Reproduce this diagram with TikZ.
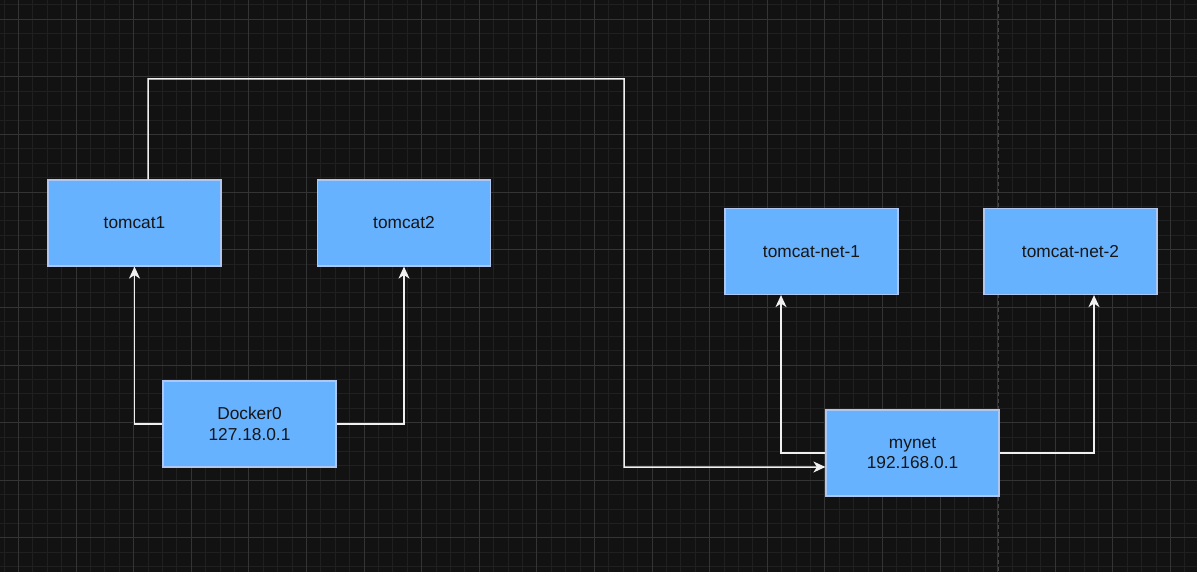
\documentclass[tikz,border=0pt]{standalone}
\usepackage{fontspec}
\setmainfont{Liberation Sans}
\usetikzlibrary{arrows.meta}
\definecolor{bg}{RGB}{18,18,18}
\definecolor{gridminor}{RGB}{32,32,32}
\definecolor{gridmajor}{RGB}{52,52,52}
\definecolor{pagebreak}{RGB}{70,70,70}
\definecolor{boxfill}{RGB}{102,178,255}
\definecolor{boxline}{RGB}{175,198,240}
\definecolor{txt}{RGB}{22,22,22}
\definecolor{wire}{RGB}{240,240,240}
\tikzset{
  box/.style={draw=boxline, line width=1.2bp, fill=boxfill, minimum width=173bp, minimum height=86bp,
    inner sep=0pt, align=center, text=txt, font=\fontsize{17.3bp}{20.5bp}\selectfont},
  wireline/.style={draw=wire, line width=1.5bp},
  arr/.style={wireline, -{Stealth[length=12bp, width=11bp, inset=3.5bp]}}
}
\begin{document}
\begin{tikzpicture}[x=1bp, y=-1bp]
\useasboundingbox (0,0) rectangle (1197,572);
\fill[bg] (0,0) rectangle (1197,572);
% minor grid
\foreach \i in {0,...,83} {
  \draw[gridminor, line width=0.8bp] (3.9+14.4*\i,0) -- (3.9+14.4*\i,572);
}
\foreach \i in {0,...,39} {
  \draw[gridminor, line width=0.8bp] (0,4.9+14.4*\i) -- (1197,4.9+14.4*\i);
}
% major grid
\foreach \i in {0,...,20} {
  \draw[gridmajor, line width=0.8bp] (18.3+57.6*\i,0) -- (18.3+57.6*\i,572);
}
\foreach \i in {0,...,9} {
  \draw[gridmajor, line width=0.8bp] (0,19.3+57.6*\i) -- (1197,19.3+57.6*\i);
}
% page break
\draw[pagebreak, line width=1.5bp, dash pattern=on 4bp off 3bp] (998.3,0) -- (998.3,572);

% nodes
\node[box] (t1) at (134.5,223) {tomcat1};
\node[box] (t2) at (404,223) {tomcat2};
\node[box] (d0) at (249.5,424) {Docker0\\127.18.0.1};
\node[box] (n1) at (811.5,251.5) {tomcat-net-1};
\node[box] (n2) at (1070.5,251.5) {tomcat-net-2};
\node[box] (m) at (912.5,453) {mynet\\192.168.0.1};

\coordinate (c1) at (624,79);
\coordinate (c2) at (624,467);

% connectors
\draw[arr] (d0.west) -| (t1.south);
\draw[arr] (d0.east) -| (t2.south);
\draw[arr] ([xshift=13.5bp]t1.north) |- (c1) -- (c2) -- ([yshift=-14bp]m.west);
\draw[arr] (m.west) -| ([xshift=-30.5bp]n1.south);
\draw[arr] (m.east) -| ([xshift=23.5bp]n2.south);
\end{tikzpicture}
\end{document}
